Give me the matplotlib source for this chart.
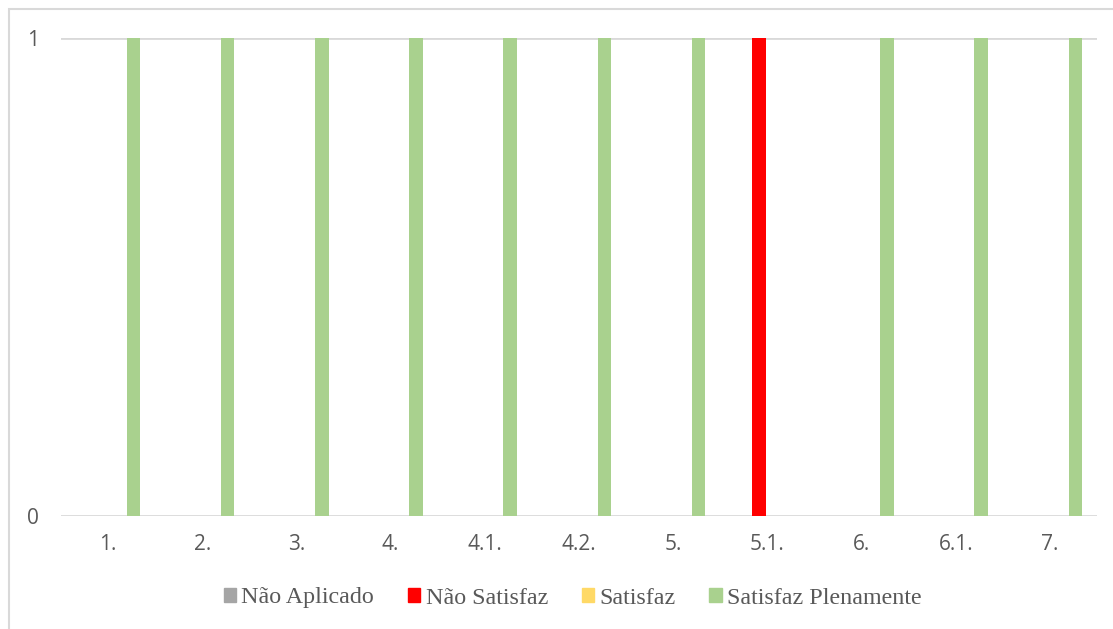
import matplotlib.pyplot as plt
import numpy as np
from matplotlib.patches import Rectangle

categories = ["1.", "2.", "3.", "4.", "4.1.", "4.2.", "5.", "5.1.", "6.", "6.1.", "7."]
series_names = ["Não Aplicado", "Não Satisfaz", "Satisfaz", "Satisfaz Plenamente"]
nao_aplicado = [0, 0, 0, 0, 0, 0, 0, 0, 0, 0, 0]
nao_satisfaz = [0, 0, 0, 0, 0, 0, 0, 1, 0, 0, 0]
satisfaz = [0, 0, 0, 0, 0, 0, 0, 0, 0, 0, 0]
satisfaz_plenamente = [1, 1, 1, 1, 1, 1, 1, 0, 1, 1, 1]
colors = ["#a5a5a5", "#ff0000", "#ffd966", "#a9d18e"]

fig = plt.figure(figsize=(11.13, 6.29), dpi=100)
ax = fig.add_axes([0.0548, 0.1796, 0.9308, 0.76])

# chart border like the office export
fig.patches.append(Rectangle((9 / 1113, -0.1), 1.2, 1.1 - 9 / 629, transform=fig.transFigure,
                             fill=False, edgecolor="#d9d9d9", linewidth=1.5, zorder=0))

x = np.arange(len(categories))
slot = 0.18
values = [nao_aplicado, nao_satisfaz, satisfaz, satisfaz_plenamente]
for i, (vals, c) in enumerate(zip(values, colors)):
    ax.bar(x + (i - 1.5) * slot, vals, width=slot * 0.8, color=c, zorder=3)

ax.set_xlim(-0.5, len(categories) - 0.5)
ax.set_ylim(0, 1)
ax.set_yticks([0, 1])
ax.set_xticks(x)
ax.set_xticklabels(categories)
for s in ax.spines.values():
    s.set_visible(False)
ax.grid(axis="y", color="#d9d9d9", linewidth=2, zorder=0)
ax.tick_params(length=0, colors="#595959", labelsize=15)
ax.tick_params(axis="x", pad=13)
ax.tick_params(axis="y", pad=16)
for lab in ax.get_xticklabels() + ax.get_yticklabels():
    lab.set_family("Open Sans")

handles = [Rectangle((0, 0), 1, 1, color=c) for c in colors]
leg = fig.legend(handles, series_names, loc="center", bbox_to_anchor=(0.5145, 1 - 598 / 629),
                 ncol=4, frameon=False, handlelength=0.52, handleheight=0.52,
                 handletextpad=0.22, columnspacing=1.4,
                 prop={"family": "Liberation Serif", "size": 17.3})
for t in leg.get_texts():
    t.set_color("#595959")

fig.savefig("out.png", dpi=100)
